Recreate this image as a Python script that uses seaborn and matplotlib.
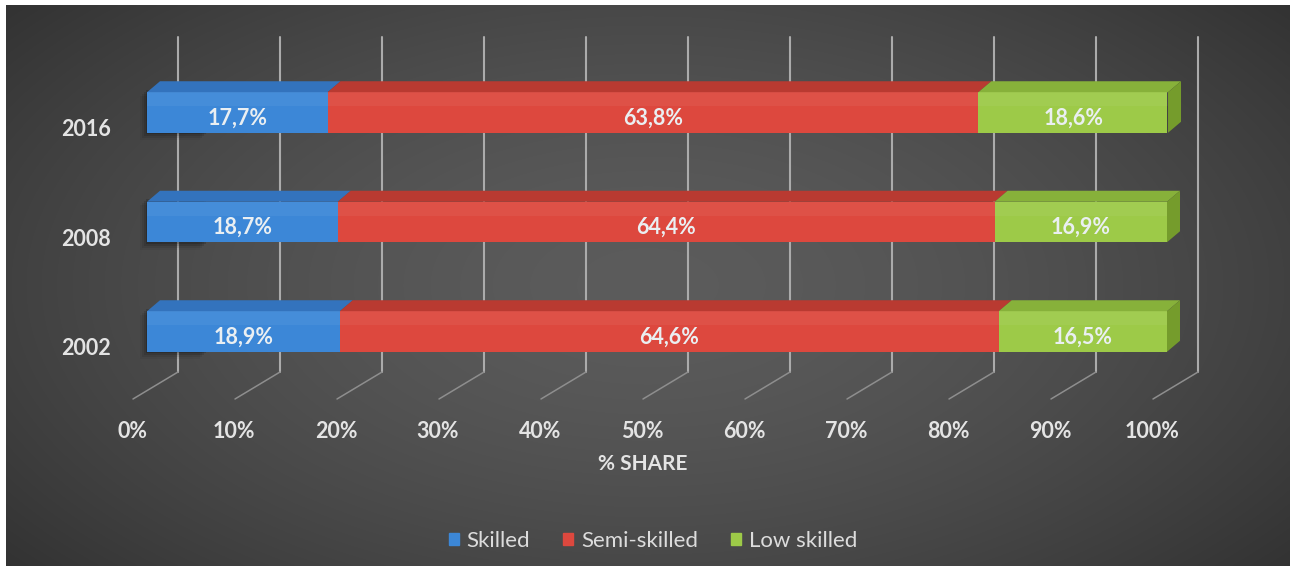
import numpy as np
import pandas as pd
import seaborn as sns
import matplotlib.pyplot as plt
from matplotlib.patches import Polygon, Rectangle
from matplotlib.lines import Line2D
from matplotlib.transforms import IdentityTransform, ScaledTranslation

# ---- data -------------------------------------------------------------
years = ["2016", "2008", "2002"]
skilled = [17.7, 18.7, 18.9]
semi_skilled = [63.8, 64.4, 64.6]
low_skilled = [18.6, 16.9, 16.5]
series_names = ["Skilled", "Semi-skilled", "Low skilled"]
x_ticks = [0, 10, 20, 30, 40, 50, 60, 70, 80, 90, 100]
x_tick_labels = ["0%", "10%", "20%", "30%", "40%", "50%", "60%", "70%", "80%", "90%", "100%"]
x_title = "% SHARE"

# ---- style --------------------------------------------------------------
sns.set_theme(style="dark")
plt.rcParams["font.family"] = ["Lato", "DejaVu Sans"]

front = ["#3c87d7", "#dd483e", "#9dca48"]
top = ["#3373bd", "#b93a31", "#87b13a"]
side_green = "#759c2c"
text_col = "#e4e4e4"
fs = 15.5

W, H = 1290, 566
fig = plt.figure(figsize=(W / 100, H / 100), dpi=100, facecolor="white")

# dark radial backdrop
bg = fig.add_axes([6 / W, 0, 1 - 6 / W, 1 - 5 / H])
bg.set_axis_off()
yy, xx = np.mgrid[0:1:300j, 0:1:680j]
r = np.sqrt(((xx - 0.5) / 0.62) ** 2 + ((yy - 0.5) / 0.75) ** 2)
v = 0.36 - 0.15 * np.clip(r, 0, 1.2) ** 1.6
bg.imshow(np.dstack([v, v, v]), aspect="auto", extent=[0, 1, 0, 1], interpolation="bicubic")
bg.set_xlim(0, 1)
bg.set_ylim(0, 1)

# ---- main axes ----------------------------------------------------------
ax = fig.add_axes([147 / W, (H - 386.25) / H, 1020 / W, 328.5 / H])
ax.patch.set_alpha(0)

s = np.array(skilled)
m = np.array(semi_skilled)
lo = np.array(low_skilled)
df = pd.DataFrame({
    "year": years,
    "c1": s,
    "c2": s + m,
    "c3": s + m + lo,
})

bar_w = 0.37
for col, c in zip(["c3", "c2", "c1"], front[::-1]):
    sns.barplot(data=df, x=col, y="year", orient="h", color=c, saturation=1,
                width=bar_w, ax=ax, zorder=3, linewidth=0)

ax.set_xlim(0, 100)
ax.set_ylim(2.5, -0.5)
ax.set_autoscale_on(False)
ax.set_xlabel("")
ax.set_ylabel("")
ax.grid(False)
for sp in ax.spines.values():
    sp.set_visible(False)

ax.set_xticks(x_ticks, x_tick_labels)
ax.tick_params(axis="x", length=0, pad=25, labelsize=fs, labelcolor=text_col)
ax.tick_params(axis="y", length=0, pad=26, labelsize=fs, labelcolor=text_col)
for lbl in ax.get_xticklabels():
    lbl.set_fontweight("bold")
    lbl.set_transform(lbl.get_transform() + ScaledTranslation(-0.15, 0, fig.dpi_scale_trans))
for lbl in ax.get_yticklabels():
    lbl.set_fontweight("bold")
    lbl.set_transform(lbl.get_transform() + ScaledTranslation(0, -0.15, fig.dpi_scale_trans))

ident = IdentityTransform()
td = ax.transData

# back-wall gridlines with floor edges
for t in x_ticks:
    xd = td.transform((t, 0))[0] + 31
    ax.add_artist(Line2D([xd, xd], [H - 37, H - 372], transform=ident, color="#ababab",
                         lw=1.5, zorder=1, clip_on=False))
    ax.add_artist(Line2D([xd, xd - 45], [H - 372, H - 399], transform=ident, color="#8e8e8e",
                         lw=1.1, zorder=1, clip_on=False))

# depth faces of the bars
dx, dy = 13, 11
half = bar_w / 2
for i in range(len(years)):
    edges = [0, s[i], s[i] + m[i], s[i] + m[i] + lo[i]]
    x_l, y_t = td.transform((0, i - half))
    _, y_b = td.transform((0, i + half))
    # soft shadow to the left of and below the bar (sits behind the bar faces)
    for k, a in enumerate([0.16, 0.12, 0.08, 0.05]):
        off = 1.5 + 2 * k
        ax.add_artist(Rectangle((x_l - off, y_b - off), 60, y_t - y_b + 4, transform=ident,
                                color="black", alpha=a, lw=0, zorder=2, clip_on=False))
    for j in range(3):
        x0 = td.transform((edges[j], 0))[0]
        x1 = td.transform((edges[j + 1], 0))[0]
        fig.add_artist(Polygon([(x0, y_t), (x1, y_t), (x1 + dx, y_t + dy), (x0 + dx, y_t + dy)],
                               closed=True, transform=ident, color=top[j], lw=0, zorder=2))
        # lighter upper band on the front face
        fig.add_artist(Rectangle((x0, y_t - 14), x1 - x0, 14, transform=ident,
                                 color="white", alpha=0.05, lw=0, zorder=2))
        if j == 2:
            fig.add_artist(Polygon([(x1, y_t), (x1 + dx, y_t + dy), (x1 + dx, y_b + dy), (x1, y_b)],
                                   closed=True, transform=ident, color=side_green, lw=0, zorder=2))
        val = edges[j + 1] - edges[j]
        ax.text((edges[j] + edges[j + 1]) / 2, i + 0.05, f"{val:.1f}%".replace(".", ","),
                ha="center", va="center", color="#eaeff2", fontsize=fs, fontweight="bold",
                zorder=5)

fig.text(643 / W, 1 - 464 / H, x_title, ha="center", va="center", color=text_col,
         fontsize=fs - 0.5, fontweight="bold")

handles = [Rectangle((0, 0), 1, 1, color=c) for c in front]
fig.legend(handles, series_names, loc="center", bbox_to_anchor=(653 / W, 1 - 541 / H),
           ncol=3, frameon=False, handlelength=0.45, handleheight=0.45, handletextpad=0.35,
           columnspacing=1.5, fontsize=16, labelcolor="#dcdcdc")

fig.savefig("out.png", dpi=100, facecolor="white")
